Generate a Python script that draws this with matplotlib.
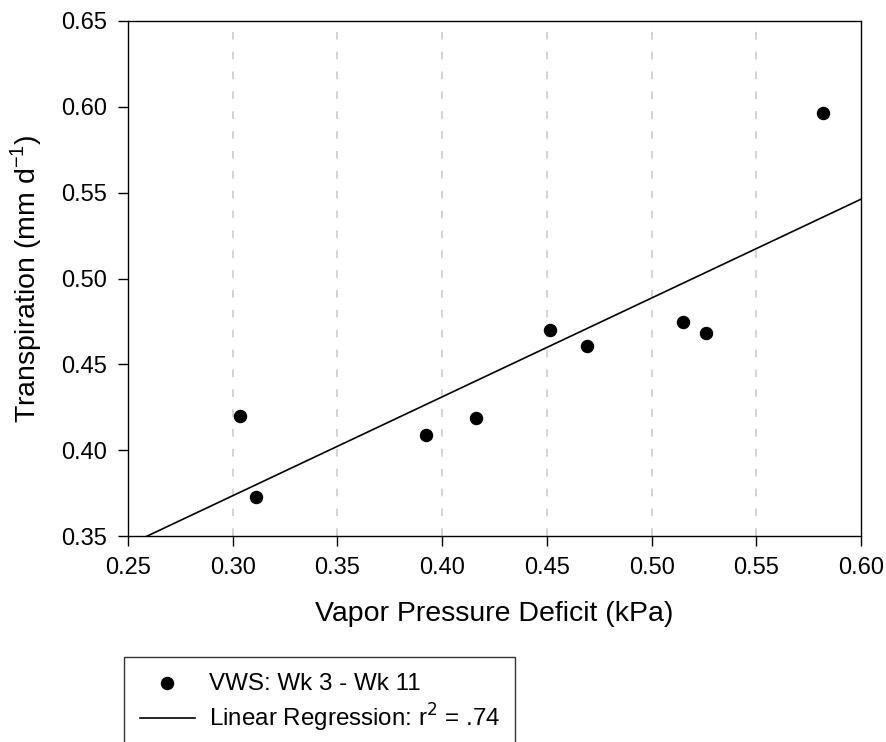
import matplotlib.pyplot as plt
import numpy as np

plt.rcParams['font.family'] = ['Liberation Sans', 'DejaVu Sans']

# VPD (kPa) and transpiration (mm/d)
vpd = [0.3034, 0.3111, 0.3925, 0.4164, 0.4517, 0.4693, 0.5149, 0.5258, 0.5819]
transp = [0.420, 0.3725, 0.4087, 0.4188, 0.470, 0.4609, 0.4747, 0.4685, 0.5967]

x_ticks = [0.25, 0.30, 0.35, 0.40, 0.45, 0.50, 0.55, 0.60]
y_ticks = [0.35, 0.40, 0.45, 0.50, 0.55, 0.60, 0.65]

fig = plt.figure(figsize=(8.87, 7.42), dpi=100)
ax = fig.add_axes([0.1443, 0.2776, 0.8264, 0.6941])

# vertical dashed grid
for gx in x_ticks[1:-1]:
    ax.axvline(gx, color='#c8c8c8', lw=1.1, dashes=(5, 8), zorder=0)

ax.scatter(vpd, transp, s=75, color='black', zorder=3,
           label='VWS: Wk 3 - Wk 11')

# linear regression
slope, icpt = np.polyfit(vpd, transp, 1)
xl = np.array([0.25, 0.60])
ax.plot(xl, slope * xl + icpt, color='black', lw=1.2, zorder=2,
        label='Linear Regression: r$^2$ = .74')

ax.set_xlim(0.25, 0.60)
ax.set_ylim(0.35, 0.65)
ax.set_xticks(x_ticks)
ax.set_yticks(y_ticks)
ax.set_xticklabels(['%.2f' % v for v in x_ticks])
ax.set_yticklabels(['%.2f' % v for v in y_ticks])
ax.tick_params(direction='out', length=7, width=1, labelsize=17, pad=8)
for sp in ax.spines.values():
    sp.set_linewidth(1)

ax.set_xlabel('Vapor Pressure Deficit (kPa)', fontsize=20.5, labelpad=16)
ax.set_ylabel('Transpiration (mm d$^{\\mathregular{-1}}$)', fontsize=20.5, labelpad=12)

leg = fig.legend(loc='upper left', bbox_to_anchor=(124 / 887, 1 - 657 / 742),
                 fontsize=17.4, frameon=True, fancybox=False, edgecolor='black',
                 handlelength=2.3, handletextpad=0.55, borderpad=0.65,
                 labelspacing=0.3, borderaxespad=0)
leg.get_frame().set_linewidth(1)

fig.savefig('out.png', dpi=100)
